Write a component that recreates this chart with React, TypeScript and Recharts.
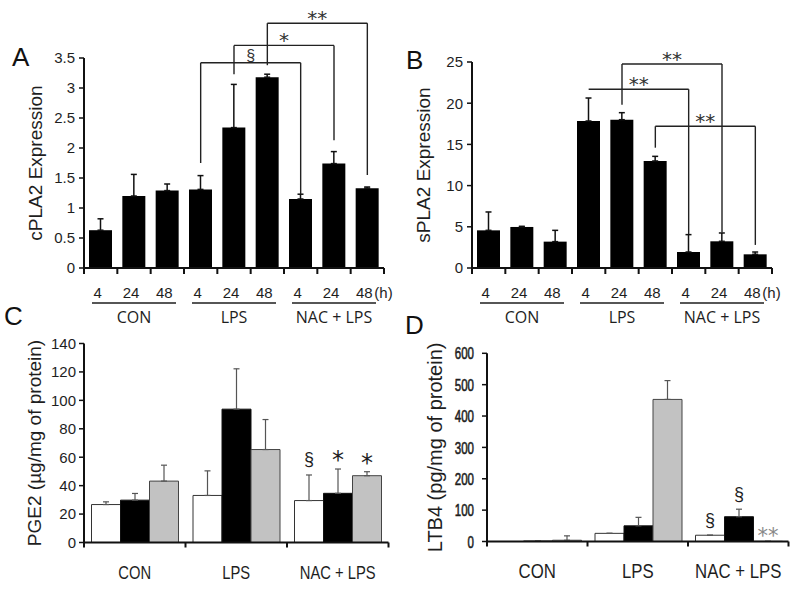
import React from "react";
import { BarChart, Bar, XAxis, YAxis, ErrorBar, ReferenceLine, LabelList } from "recharts";

const FONT = '"Liberation Sans", Arial, Helvetica, sans-serif';
const STAR = '"DejaVu Sans", sans-serif';
const HUMANIST = '"Open Sans", "Noto Sans", sans-serif';
const INK = "#1e1e1e";

// A / B: expression after 4, 24, 48 h for each treatment
const conditions = ["CON", "LPS", "NAC + LPS"];
const conditionKeys = ["CON", "LPS", "NAC"];
const hours = ["4", "24", "48"];
const timeKeys = conditionKeys.flatMap((c) => hours.map((h) => `${c}-${h}`));

const cplaMean = [0.63, 1.2, 1.29, 1.31, 2.34, 3.18, 1.15, 1.74, 1.33];
const cplaErr = [0.19, 0.36, 0.11, 0.23, 0.72, 0.05, 0.08, 0.2, 0.02];
const splaMean = [4.57, 4.98, 3.2, 17.84, 18.0, 12.99, 1.94, 3.24, 1.66];
const splaErr = [2.23, 0.08, 1.37, 2.79, 0.85, 0.56, 2.11, 1.01, 0.28];

const cplaTicks = [0, 0.5, 1, 1.5, 2, 2.5, 3, 3.5];
const splaTicks = [0, 5, 10, 15, 20, 25];

type Bracket = { from: string; to: string; top: number; fromEnd: number; toEnd: number; mark: string };

const cplaBrackets: Bracket[] = [
  { from: "LPS-4", to: "NAC-4", top: 3.42, fromEnd: 1.75, toEnd: 1.23, mark: "§" },
  { from: "LPS-24", to: "NAC-24", top: 3.71, fromEnd: 3.23, toEnd: 2.13, mark: "*" },
  { from: "LPS-48", to: "NAC-48", top: 4.08, fromEnd: 3.38, toEnd: 1.55, mark: "**" },
];
const splaBrackets: Bracket[] = [
  { from: "LPS-4", to: "NAC-4", top: 21.7, fromEnd: 21.7, toEnd: 4.1, mark: "**" },
  { from: "LPS-24", to: "NAC-24", top: 24.75, fromEnd: 19.8, toEnd: 4.3, mark: "**" },
  { from: "LPS-48", to: "NAC-48", top: 17.2, fromEnd: 14.6, toEnd: 2.8, mark: "**" },
];

// C / D: white, black and grey bars for each treatment
const pgeWhite = [26.7, 33.1, 29.5];
const pgeWhiteErr = [1.9, 17.3, 18.0];
const pgeBlack = [29.8, 93.8, 34.6];
const pgeBlackErr = [4.7, 28.4, 17.1];
const pgeGrey = [43.2, 65.4, 47.0];
const pgeGreyErr = [11.2, 21.1, 2.8];
const pgeWhiteSig = ["", "", "§"];
const pgeBlackSig = ["", "", "*"];
const pgeGreySig = ["", "", "*"];

const ltbWhite = [0, 26, 20];
const ltbWhiteErr = [0, 0, 0];
const ltbBlack = [1.5, 50, 79];
const ltbBlackErr = [0, 27, 24];
const ltbGrey = [4, 453, 0.5];
const ltbGreyErr = [14, 60, 0];
const ltbWhiteSig = ["", "", "§"];
const ltbBlackSig = ["", "", "§"];
const ltbGreySig = ["", "", "**"];

const pgeTicks = [0, 20, 40, 60, 80, 100, 120, 140];
const ltbTicks = [0, 100, 200, 300, 400, 500, 600];

const timeData = (mean: number[], err: number[]) =>
  timeKeys.map((key, i) => ({ key, mean: mean[i], err: [0, err[i]] }));

const sigInfo = (marks: string[], values: number[], errs: number[], i: number) => ({
  mark: marks[i],
  value: values[i],
  err: errs[i],
});

const groupData = (
  w: number[], we: number[], ws: string[],
  b: number[], be: number[], bs: string[],
  g: number[], ge: number[], gs: string[]
) =>
  conditions.map((group, i) => ({
    group,
    w: w[i],
    wErr: [0, we[i]],
    wSig: sigInfo(ws, w, we, i),
    b: b[i],
    bErr: [0, be[i]],
    bSig: sigInfo(bs, b, be, i),
    g: g[i],
    gErr: [0, ge[i]],
    gSig: sigInfo(gs, g, ge, i),
  }));

const cplaData = timeData(cplaMean, cplaErr);
const splaData = timeData(splaMean, splaErr);
const pgeData = groupData(pgeWhite, pgeWhiteErr, pgeWhiteSig, pgeBlack, pgeBlackErr, pgeBlackSig, pgeGrey, pgeGreyErr, pgeGreySig);
const ltbData = groupData(ltbWhite, ltbWhiteErr, ltbWhiteSig, ltbBlack, ltbBlackErr, ltbBlackSig, ltbGrey, ltbGreyErr, ltbGreySig);

const axisStroke = { stroke: "#111", strokeWidth: 2 };

function TimeTick(props: any) {
  const { x, y, payload, half } = props;
  const i = timeKeys.indexOf(payload.value);
  const last = i === timeKeys.length - 1;
  return (
    <g>
      <line x1={x - half} x2={x - half} y1={y} y2={y + 6} stroke="#111" strokeWidth={2} />
      {last && <line x1={x + half} x2={x + half} y1={y} y2={y + 6} stroke="#111" strokeWidth={2} />}
      <text x={x - 3} y={y + 30} textAnchor="middle" fontSize={15} fontFamily={FONT} fill={INK}>
        {hours[i % 3]}
      </text>
      {last && (
        <text x={x + 7} y={y + 30} fontSize={15} fontFamily={FONT} fill={INK}>
          (h)
        </text>
      )}
      {i % 3 === 1 && (
        <g>
          <line x1={x - 42} x2={x + 42} y1={y + 35} y2={y + 35} stroke={INK} strokeWidth={1.3} />
          <text x={x} y={y + 55} textAnchor="middle" fontSize={16} fontFamily={HUMANIST} fill={INK}>
            {conditions[Math.floor(i / 3)]}
          </text>
        </g>
      )}
    </g>
  );
}

function ConditionTick(props: any) {
  const { x, y, payload, half, fontSize, squeeze, index } = props;
  const last = index === conditions.length - 1 || payload.value === conditions[conditions.length - 1];
  return (
    <g>
      <line x1={x - half} x2={x - half} y1={y} y2={y + 5} stroke="#111" strokeWidth={2} />
      {last && <line x1={x + half} x2={x + half} y1={y} y2={y + 5} stroke="#111" strokeWidth={2} />}
      <text
        transform={`translate(${x} ${y + 36}) scale(${squeeze} 1)`}
        textAnchor="middle"
        fontSize={fontSize}
        fontFamily={FONT}
        fill={INK}
      >
        {payload.value}
      </text>
    </g>
  );
}

function ValueTick(props: any) {
  const { x, y, payload, squeeze, size, weight } = props;
  return (
    <text
      transform={`translate(${x} ${y}) scale(${squeeze} 1)`}
      dy="0.36em"
      textAnchor="end"
      fontSize={size}
      fontFamily={FONT}
      fill={INK}
      stroke={weight ? INK : "none"}
      strokeWidth={weight}
    >
      {payload.value}
    </text>
  );
}

const yTitle = (text: string, x: number, size: number) => (props: any) => {
  const vb = props.viewBox || {};
  const cy = vb.y + vb.height / 2;
  return (
    <text x={x} y={cy} transform={`rotate(-90 ${x} ${cy})`} textAnchor="middle" fontSize={size} fontFamily={FONT} fill={INK}>
      {text}
    </text>
  );
};

const bracketLabel = (mark: string) => (props: any) => {
  const vb = props.viewBox || {};
  const x = vb.x + vb.width / 2;
  const star = mark.includes("*");
  return (
    <text
      x={x}
      y={star ? vb.y + 2 : vb.y - 2}
      textAnchor="middle"
      fontSize={star ? 20 : 16}
      fontFamily={star ? STAR : FONT}
      style={{ fill: "#333" }}
    >
      {mark}
    </text>
  );
};

const sigLabel = (colour: string, starSize: number) => (props: any) => {
  const info = props.value;
  if (!info || !info.mark) return null;
  const vb = props.viewBox || props;
  const bx = vb.x ?? props.x;
  const bw = vb.width ?? props.width;
  const by = vb.y ?? props.y;
  const bh = vb.height ?? props.height ?? 0;
  const top = Math.min(by, by + bh);
  const h = Math.abs(bh);
  const errPx = info.value > 0 ? (info.err * h) / info.value : 0;
  const star = info.mark.includes("*");
  const centre = top - errPx - (info.mark === "**" ? 10 : 14.5);
  return (
    <text
      x={bx + bw / 2}
      y={star ? centre + starSize * 0.56 : centre + 5}
      textAnchor="middle"
      fontSize={star ? starSize : 18}
      fontFamily={star ? STAR : FONT}
      style={{ fill: colour }}
    >
      {info.mark}
    </text>
  );
};

function renderBrackets(list: Bracket[]) {
  const line = { stroke: "#222", strokeWidth: 1.4, ifOverflow: "visible" as const, xAxisId: "cat" };
  return list.flatMap((b, i) => [
    <ReferenceLine key={`l${i}`} {...line} segment={[{ x: b.from, y: b.fromEnd }, { x: b.from, y: b.top }]} />,
    <ReferenceLine
      key={`t${i}`}
      {...line}
      segment={[{ x: b.from, y: b.top }, { x: b.to, y: b.top }]}
      label={bracketLabel(b.mark)}
    />,
    <ReferenceLine key={`r${i}`} {...line} segment={[{ x: b.to, y: b.top }, { x: b.to, y: b.toEnd }]} />,
  ]);
}

function TimePanel(props: {
  data: any[];
  yTicks: number[];
  yLabel: string;
  brackets: Bracket[];
  yWidth: number;
  top: number;
  right: number;
  titleX: number;
}) {
  const { data, yTicks, yLabel, brackets, yWidth, top, right, titleX } = props;
  const width = 400;
  const height = 330;
  const bottom = 62;
  const half = (width - yWidth - right) / data.length / 2;
  return (
    <BarChart width={width} height={height} data={data} margin={{ top, right, bottom: 0, left: 0 }} barCategoryGap={5}>
      <XAxis
        xAxisId="cat"
        dataKey="key"
        height={bottom}
        interval={0}
        axisLine={axisStroke}
        tickLine={false}
        tickSize={0}
        tickMargin={0}
        tick={(p: any) => <TimeTick {...p} half={half} />}
      />
      <YAxis
        domain={[0, yTicks[yTicks.length - 1]]}
        ticks={yTicks}
        interval={0}
        width={yWidth}
        tickSize={5}
        tickMargin={4}
        axisLine={axisStroke}
        tickLine={{ stroke: "#111", strokeWidth: 1.5 }}
        tick={{ fontSize: 15, fill: INK, fontFamily: FONT }}
        label={yTitle(yLabel, titleX, 19)}
      />
      <Bar xAxisId="cat" dataKey="mean" fill="#000" isAnimationActive={false}>
        <ErrorBar dataKey="err" direction="y" width={3} stroke="#111" strokeWidth={1.5} />
      </Bar>
      {renderBrackets(brackets)}
    </BarChart>
  );
}

function GroupPanel(props: {
  data: any[];
  yTicks: number[];
  yLabel: string;
  yWidth: number;
  top: number;
  bottom: number;
  titleX: number;
  titleSize: number;
  tickSize: number;
  tickSqueeze: number;
  tickWeight: number;
  tickMargin: number;
  labelSize: number;
  labelSqueeze: number;
  greySigColour: string;
  greyStarSize: number;
}) {
  const p = props;
  const width = 400;
  const right = 11.5;
  const half = (width - p.yWidth - right) / p.data.length / 2;
  return (
    <BarChart width={width} height={293} data={p.data} margin={{ top: p.top, right, bottom: 0, left: 0 }} barCategoryGap={7.5} barGap={0}>
      <XAxis
        xAxisId="cat"
        dataKey="group"
        height={p.bottom}
        interval={0}
        axisLine={axisStroke}
        tickLine={false}
        tickSize={0}
        tickMargin={0}
        tick={(t: any) => <ConditionTick {...t} half={half} fontSize={p.labelSize} squeeze={p.labelSqueeze} />}
      />
      <YAxis
        domain={[0, p.yTicks[p.yTicks.length - 1]]}
        ticks={p.yTicks}
        interval={0}
        width={p.yWidth}
        tickSize={5}
        tickMargin={p.tickMargin}
        axisLine={axisStroke}
        tickLine={{ stroke: "#111", strokeWidth: 1.5 }}
        tick={(t: any) => <ValueTick {...t} squeeze={p.tickSqueeze} size={p.tickSize} weight={p.tickWeight} />}
        label={yTitle(p.yLabel, p.titleX, p.titleSize)}
      />
      <Bar xAxisId="cat" dataKey="w" fill="#fff" stroke="#333" strokeWidth={1} isAnimationActive={false}>
        <ErrorBar dataKey="wErr" direction="y" width={3} stroke="#555" strokeWidth={1.2} />
        <LabelList dataKey="wSig" content={sigLabel(INK, 24)} />
      </Bar>
      <Bar xAxisId="cat" dataKey="b" fill="#000" stroke="#111" strokeWidth={1} isAnimationActive={false}>
        <ErrorBar dataKey="bErr" direction="y" width={3} stroke="#555" strokeWidth={1.2} />
        <LabelList dataKey="bSig" content={sigLabel(INK, 24)} />
      </Bar>
      <Bar xAxisId="cat" dataKey="g" fill="#c2c2c2" stroke="#444" strokeWidth={1} isAnimationActive={false}>
        <ErrorBar dataKey="gErr" direction="y" width={3} stroke="#555" strokeWidth={1.2} />
        <LabelList dataKey="gSig" content={sigLabel(p.greySigColour, p.greyStarSize)} />
      </Bar>
    </BarChart>
  );
}

const letterStyle = (left: number, top: number): React.CSSProperties => ({
  position: "absolute",
  left,
  top,
  fontSize: 26,
  lineHeight: "26px",
  fontFamily: FONT,
  color: "#111",
});

export default function App() {
  return (
    <div style={{ position: "absolute", left: 0, top: 0, width: 800, height: 593, background: "#fff", fontFamily: FONT, overflow: "hidden" }}>
      <div style={{ position: "absolute", left: 0, top: 0 }}>
        <TimePanel data={cplaData} yTicks={cplaTicks} yLabel="cPLA2 Expression" brackets={cplaBrackets} yWidth={84} top={58} right={16} titleX={42} />
      </div>
      <div style={{ position: "absolute", left: 400, top: 0 }}>
        <TimePanel data={splaData} yTicks={splaTicks} yLabel="sPLA2 Expression" brackets={splaBrackets} yWidth={72} top={62} right={28} titleX={30} />
      </div>
      <div style={{ position: "absolute", left: 0, top: 300 }}>
        <GroupPanel
          data={pgeData}
          yTicks={pgeTicks}
          yLabel="PGE2 (µg/mg of protein)"
          yWidth={84}
          top={43.5}
          bottom={50.5}
          titleX={41}
          titleSize={19}
          tickSize={15}
          tickSqueeze={1}
          tickWeight={0}
          tickMargin={3}
          labelSize={18}
          labelSqueeze={0.82}
          greySigColour={INK}
          greyStarSize={24}
        />
      </div>
      <div style={{ position: "absolute", left: 400, top: 300 }}>
        <GroupPanel
          data={ltbData}
          yTicks={ltbTicks}
          yLabel="LTB4 (pg/mg of protein)"
          yWidth={87}
          top={53.3}
          bottom={51.5}
          titleX={42}
          titleSize={20}
          tickSize={17}
          tickSqueeze={0.68}
          tickWeight={0.6}
          tickMargin={8}
          labelSize={20}
          labelSqueeze={0.84}
          greySigColour="#888"
          greyStarSize={21}
        />
      </div>
      <div style={letterStyle(12, 44)}>A</div>
      <div style={letterStyle(406, 47)}>B</div>
      <div style={letterStyle(4, 303)}>C</div>
      <div style={letterStyle(405, 312)}>D</div>
    </div>
  );
}
